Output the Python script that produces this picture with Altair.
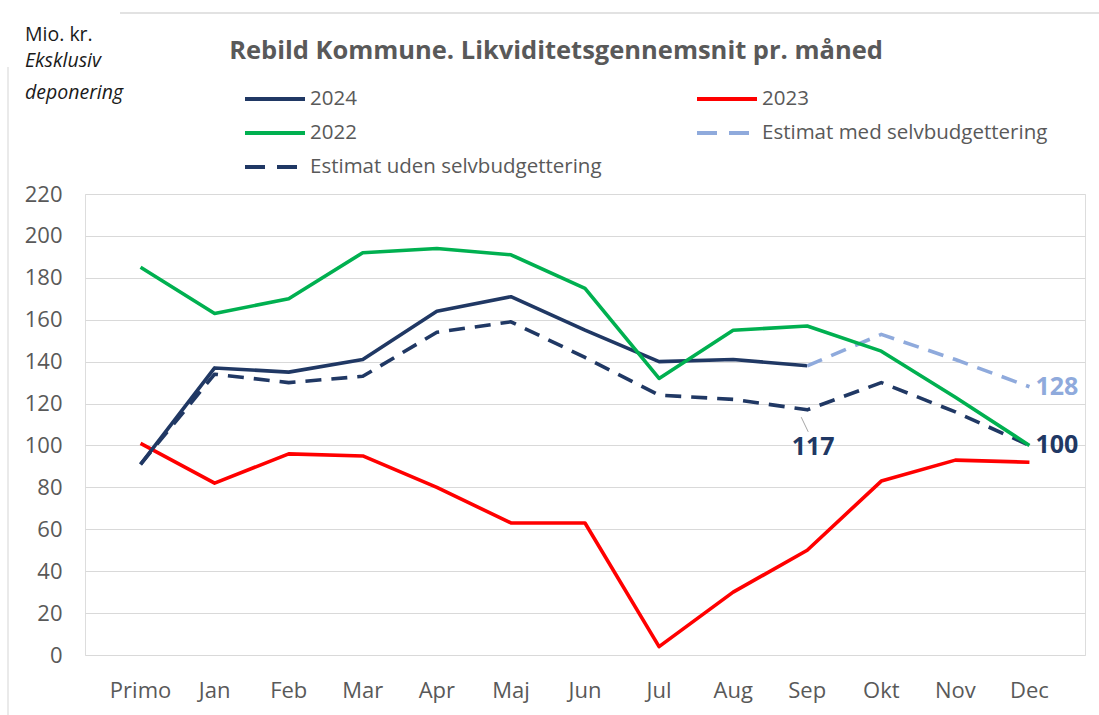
import altair as alt
import pandas as pd

months = ["Primo", "Jan", "Feb", "Mar", "Apr", "Maj", "Jun", "Jul", "Aug", "Sep", "Okt", "Nov", "Dec"]
v2024 = [91, 137, 135, 141, 164, 171, 155, 140, 141, 138]
v2023 = [101, 82, 96, 95, 80, 63, 63, 4, 30, 50, 83, 93, 92]
v2022 = [185, 163, 170, 192, 194, 191, 175, 132, 155, 157, 145, 123, 100]
uden = [91, 134, 130, 133, 154, 159, 142, 124, 122, 117, 130, 116, 100]
med_months = ["Sep", "Okt", "Nov", "Dec"]
med = [138, 153, 141, 128]
y_ticks = [0, 20, 40, 60, 80, 100, 120, 140, 160, 180, 200, 220]

FONT = "Open Sans"
NAVY = "#203864"
GREEN = "#00B050"
RED = "#FF0000"
LIGHT = "#8FAADC"
GRAY = "#595959"

series = [
    ("2023", months[:len(v2023)], v2023, RED, None),
    ("2024", months[:len(v2024)], v2024, NAVY, None),
    ("Estimat uden selvbudgettering", months[:len(uden)], uden, NAVY, [16, 10]),
    ("Estimat med selvbudgettering", med_months, med, LIGHT, [16, 10]),
    ("2022", months[:len(v2022)], v2022, GREEN, None),
]

x_enc = alt.X("month:N", sort=months, scale=alt.Scale(domain=months, padding=0.5),
              axis=alt.Axis(title=None, labelAngle=0, labelFontSize=22, labelColor=GRAY,
                            labelFont=FONT, labelPadding=25, ticks=False, domain=False, grid=False))
y_enc = alt.Y("value:Q", scale=alt.Scale(domain=[0, 220], nice=False),
              axis=alt.Axis(title=None, values=y_ticks, labelFontSize=22, labelColor=GRAY,
                            labelFont=FONT, labelPadding=23, ticks=False, domain=False,
                            grid=True, gridColor="#D9D9D9", gridWidth=1.2))

layers = []
for name, ms, vals, col, dash in series:
    df = pd.DataFrame({"month": ms, "value": vals, "series": name})
    kw = dict(color=col, strokeWidth=3.6, strokeJoin="round")
    if dash:
        kw["strokeDash"] = dash
    layers.append(alt.Chart(df).mark_line(**kw).encode(x=x_enc, y=y_enc))

# annotations
ann117 = pd.DataFrame({"month": ["Sep"], "value": [117], "label": ["117"]})
layers.append(alt.Chart(pd.DataFrame({"month": ["Sep"], "value": [113.5], "v2": [106.5]}))
              .mark_rule(color="#A6A6A6", strokeWidth=1, xOffset=-6, x2Offset=1)
              .encode(x=x_enc, x2=alt.X2("month"), y=y_enc, y2=alt.Y2("v2")))
layers.append(alt.Chart(ann117).mark_text(font=FONT, fontSize=25, fontWeight="bold", color=NAVY,
                                           dx=6, dy=37, baseline="middle")
              .encode(x=x_enc, y=y_enc, text="label:N"))
ann_end = pd.DataFrame({"month": ["Dec", "Dec"], "value": [100, 128], "label": ["100", "128"],
                        "col": [NAVY, LIGHT]})
layers.append(alt.Chart(ann_end).mark_text(font=FONT, fontSize=25, fontWeight="bold", dx=6,
                                            align="left", baseline="middle")
              .encode(x=x_enc, y=y_enc, text="label:N", color=alt.Color("col:N", scale=None)))

# manual legend (pixel positions relative to plot area)
legend_items = [
    ("2024", NAVY, None, 0, 0),
    ("2023", RED, None, 1, 0),
    ("2022", GREEN, None, 0, 1),
    ("Estimat med selvbudgettering", LIGHT, [20, 12], 1, 1),
    ("Estimat uden selvbudgettering", NAVY, [20, 12], 0, 2),
]
col_x = [160, 612]
row_y = [-95, -61, -27]
for label, col, dash, c, r in legend_items:
    kw = dict(color=col, strokeWidth=4)
    if dash:
        kw["strokeDash"] = dash
    x0 = col_x[c]
    yy = row_y[r]
    layers.append(alt.Chart(pd.DataFrame({"k": [0]})).mark_rule(**kw).encode(
        x=alt.value(x0), x2=alt.value(x0 + 60), y=alt.value(yy)))
    layers.append(alt.Chart(pd.DataFrame({"t": [label]})).mark_text(
        font=FONT, fontSize=20.5, color=GRAY, align="left", baseline="middle").encode(
        x=alt.value(x0 + 65), y=alt.value(yy), text="t:N"))

# unit note top-left
notes = [("Mio. kr.", "normal", -159), ("Eksklusiv", "italic", -133), ("deponering", "italic", -101)]
for txt, style, yy in notes:
    layers.append(alt.Chart(pd.DataFrame({"t": [txt]})).mark_text(
        font=FONT, fontSize=19.5, fontStyle=style, color="#1a1a1a", align="left", baseline="middle").encode(
        x=alt.value(-60), y=alt.value(yy), text="t:N"))

# frame lines of original chart box
layers.append(alt.Chart(pd.DataFrame({"k": [0]})).mark_rule(color="#D9D9D9", strokeWidth=1.5).encode(
    x=alt.value(35), x2=alt.value(1020), y=alt.value(-181)))
layers.append(alt.Chart(pd.DataFrame({"k": [0]})).mark_rule(color="#E3E3E3", strokeWidth=1.5).encode(
    x=alt.value(-77), y=alt.value(-127), y2=alt.value(525)))

chart = alt.layer(*layers).properties(
    width=1000, height=461,
    title=alt.TitleParams("Rebild Kommune. Likviditetsgennemsnit pr. måned", font=FONT, fontSize=25.5,
                          fontWeight="bold", color=GRAY, anchor="middle", frame="group",
                          dx=-29, offset=-77, baseline="bottom"),
    autosize=alt.AutoSizeParams(type="none"),
    padding={"left": 85, "top": 194, "right": 14, "bottom": 60},
).configure_view(stroke=None).configure(background="white")

chart.save("out.html", embed_options={"renderer": "svg", "actions": False})
